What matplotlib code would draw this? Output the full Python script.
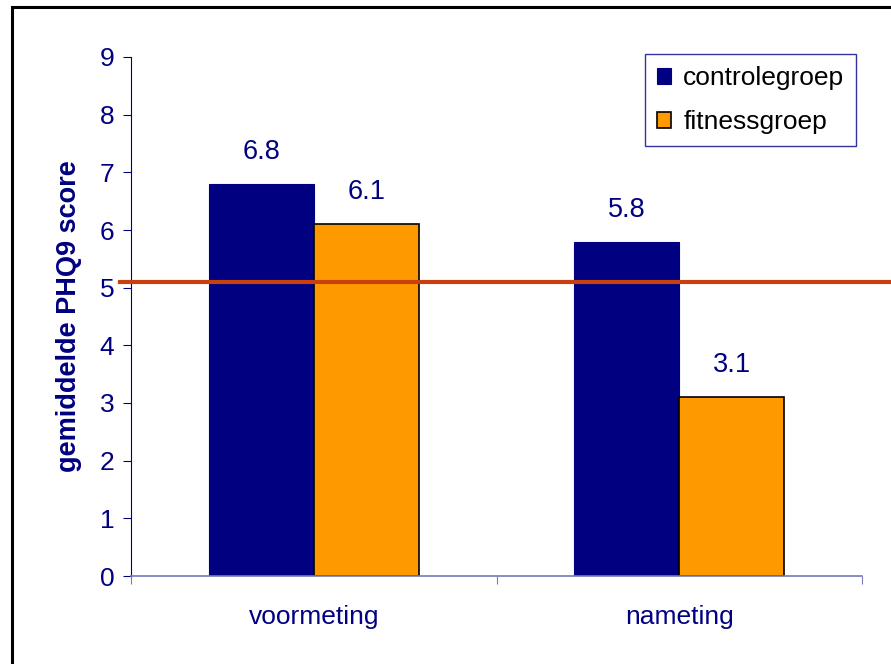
import matplotlib.pyplot as plt
from matplotlib.patches import Rectangle
import numpy as np

# data
categories = ["voormeting", "nameting"]
controle = [6.8, 5.8]
fitness = [6.1, 3.1]
series_names = ["controlegroep", "fitnessgroep"]
threshold = 5.1

NAVY = "#000080"
ORANGE = "#FF9900"
RED = "#C8400E"

plt.rcParams["font.family"] = ["Liberation Sans", "DejaVu Sans"]

fig = plt.figure(figsize=(8.91, 6.64), dpi=100)
ax = fig.add_axes([131 / 891, 88 / 664, 731 / 891, 519 / 664])

# outer chart border, running off the right and bottom edges
fig.patches.append(Rectangle((12 / 891, -0.1), 1.2, (664 - 7) / 664 + 0.1,
                             transform=fig.transFigure, fill=False,
                             edgecolor="black", linewidth=2.2))

x = np.arange(len(categories))
w = 0.2875
b1 = ax.bar(x - w / 2, controle, w, color=NAVY, edgecolor=NAVY, linewidth=0.8,
            label=series_names[0])
b2 = ax.bar(x + w / 2, fitness, w, color=ORANGE, edgecolor="black", linewidth=1.2,
            label=series_names[1])

for bars, vals in ((b1, controle), (b2, fitness)):
    for rect, v in zip(bars, vals):
        ax.annotate(f"{v:.1f}", (rect.get_x() + rect.get_width() / 2, v),
                    xytext=(0, 18), textcoords="offset points",
                    ha="center", va="baseline", color=NAVY, fontsize=19.5)

ax.plot([-0.015, 1.04], [threshold, threshold], color=RED, linewidth=3,
        transform=ax.get_yaxis_transform(), clip_on=False, zorder=5)

ax.set_xlim(-0.5, 1.5)
ax.set_ylim(0, 9)
ax.set_yticks(range(0, 10))
ax.tick_params(axis="y", colors=NAVY, labelsize=19, length=6, width=0.8, direction="out", pad=6)
ax.set_xticks(x)
ax.set_xticklabels(categories)
ax.tick_params(axis="x", length=0, labelsize=19, labelcolor=NAVY, pad=21)
ax.set_xticks([-0.5, 0.5, 1.5], minor=True)
ax.tick_params(axis="x", which="minor", length=6, width=0.8, color="#7878BC")

for side in ("top", "right"):
    ax.spines[side].set_visible(False)
ax.spines["left"].set_color(NAVY)
ax.spines["left"].set_linewidth(0.8)
ax.spines["bottom"].set_color("#7878BC")
ax.spines["bottom"].set_linewidth(1.2)

ax.set_ylabel("gemiddelde PHQ9 score", color=NAVY, fontsize=19.5, fontweight="bold", labelpad=13)

leg = ax.legend(loc="upper left", bbox_to_anchor=((645 - 131) / 731, 1.005),
                fontsize=19, frameon=True, fancybox=False, handlelength=0.55,
                handleheight=0.55, handletextpad=0.45, borderpad=0.45, labelspacing=0.75,
                borderaxespad=0)
leg.get_frame().set_edgecolor(NAVY)
leg.get_frame().set_linewidth(1.0)

fig.savefig("out.png", dpi=100)
